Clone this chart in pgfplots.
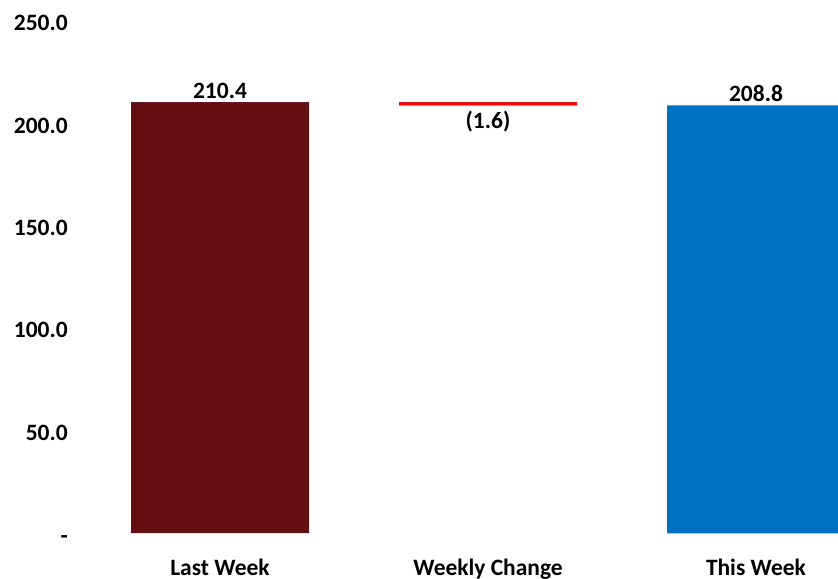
\documentclass[border=0pt]{standalone}
\usepackage{fontspec}
\setmainfont{Carlito}
\usepackage{pgfplots}
\pgfplotsset{compat=1.18}

\definecolor{lastweek}{HTML}{630F12}
\definecolor{thisweek}{HTML}{0070C0}

\pgfplotsset{
	wbar/.style={ybar, bar width=133.5pt, bar shift=0pt, stack plots=y, draw=none},
	wlabel/.style={draw=none, mark=none, nodes near coords, point meta=explicit symbolic},
}

\begin{document}
\begin{tikzpicture}
	% page is 838x578 px, 1px = 0.75pt
	\useasboundingbox (0,0) rectangle (628.5pt,433.5pt);
	\clip (0,0) rectangle (628.5pt,433.5pt);
	\begin{axis}[
		at={(64.5pt,33.75pt)}, anchor=south west,
		scale only axis,
		width=603pt, height=384pt,
		xmin=-0.5, xmax=2.5,
		ymin=0, ymax=250,
		enlargelimits=false,
		axis line style={draw=none},
		major tick length=0pt,
		tick style={draw=none},
		font=\fontsize{17.6}{20}\selectfont\bfseries,
		/pgf/number format/assume math mode=true,
		xtick={0,1,2},
		xticklabels={Last Week, Weekly Change, This Week},
		xticklabel style={anchor=base, inner sep=0pt, yshift=-31.5pt},
		ytick={0,50,100,150,200,250},
		yticklabels={\raisebox{-6pt}[0pt][0pt]{-}, 50.0, 100.0, 150.0, 200.0, 250.0},
		yticklabel style={anchor=east, inner sep=0pt, xshift=-13.5pt, yshift=-1.5pt},
		]
		% invisible base for the floating change bar
		\addplot[wbar, fill=none] coordinates {(0,0) (1,208.8) (2,0)};
		\addplot[wbar, fill=lastweek] coordinates {(0,210.4) (1,0) (2,0)};
		\addplot[wbar, fill=red] coordinates {(0,0) (1,1.6) (2,0)};
		\addplot[wbar, fill=thisweek] coordinates {(0,0) (1,0) (2,208.8)};
		% data labels
		\addplot[wlabel,
			every node near coord/.style={anchor=base, inner sep=0pt, yshift=3pt, text=black}]
			table[meta=label] {
			x y label
			0 210.4 210.4
			2 208.8 208.8
		};
		\addplot[wlabel,
			every node near coord/.style={anchor=base, inner sep=0pt, yshift=-17pt, text=black}]
			table[meta=label] {
			x y label
			1 208.8 (1.6)
		};
	\end{axis}
\end{tikzpicture}
\end{document}
